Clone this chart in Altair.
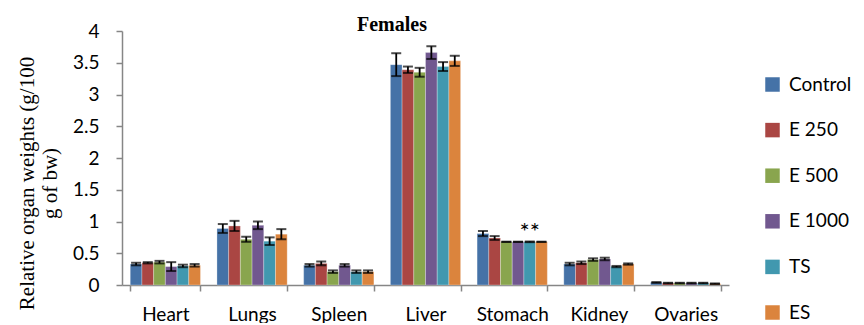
import altair as alt
import pandas as pd

organs = ["Heart", "Lungs", "Spleen", "Liver", "Stomach", "Kidney", "Ovaries"]
groups = ["Control", "E 250", "E 500", "E 1000", "TS", "ES"]
colors = ["#4572A7", "#AA4643", "#89A54E", "#71588F", "#4198AF", "#DB843D"]
y_ticks = [0, 0.5, 1, 1.5, 2, 2.5, 3, 3.5, 4]

control = [0.33, 0.89, 0.31, 3.47, 0.81, 0.33, 0.04]
e250 = [0.35, 0.93, 0.34, 3.39, 0.74, 0.35, 0.03]
e500 = [0.36, 0.72, 0.21, 3.35, 0.68, 0.40, 0.03]
e1000 = [0.29, 0.94, 0.31, 3.66, 0.68, 0.41, 0.03]
ts = [0.30, 0.69, 0.21, 3.44, 0.68, 0.29, 0.03]
es = [0.31, 0.80, 0.21, 3.53, 0.68, 0.33, 0.02]

err_control = [0.02, 0.07, 0.02, 0.18, 0.04, 0.02, 0.005]
err_e250 = [0.01, 0.08, 0.03, 0.05, 0.03, 0.02, 0.005]
err_e500 = [0.02, 0.04, 0.02, 0.07, 0.0, 0.02, 0.005]
err_e1000 = [0.07, 0.06, 0.02, 0.10, 0.0, 0.02, 0.005]
err_ts = [0.02, 0.06, 0.02, 0.07, 0.005, 0.01, 0.005]
err_es = [0.02, 0.08, 0.02, 0.08, 0.0, 0.01, 0.005]

sig_organ = ["Stomach"]
sig_group = ["TS"]
sig_text = ["**"]

y_title_lines = ["Relative  organ weights  (g/100", "g of bw)"]
chart_title = "Females"

series = [control, e250, e500, e1000, ts, es]
errors = [err_control, err_e250, err_e500, err_e1000, err_ts, err_es]

rows = []
for g, vals, errs in zip(groups, series, errors):
    for o, v, e in zip(organs, vals, errs):
        rows.append({"organ": o, "group": g, "value": v, "lo": v - e, "hi": v + e})
df = pd.DataFrame(rows)

sig_rows = []
for o, g, t in zip(sig_organ, sig_group, sig_text):
    r = df[(df.organ == o) & (df.group == g)].iloc[0]
    sig_rows.append({"organ": o, "group": g, "value": r["hi"], "label": t})
sig_df = pd.DataFrame(sig_rows)

LABEL_FONT = "Lato"
SERIF = "Liberation Serif"
GREY = "#868686"

x_axis = alt.Axis(
    title=None,
    labelAngle=0,
    labelFont=LABEL_FONT,
    labelFontSize=19,
    labelColor="#000000",
    labelPadding=14,
    domainColor=GREY,
    domainWidth=1.5,
    tickColor=GREY,
    tickWidth=1.5,
    tickSize=6,
    tickBand="extent",
)
y_axis = alt.Axis(
    title=y_title_lines,
    titleFont=SERIF,
    titleFontSize=21,
    titleFontWeight="normal",
    titleColor="#000000",
    titleAngle=270,
    titleX=-89,
    titleY=152,
    titleAlign="center",
    titleBaseline="alphabetic",
    titleLineHeight=23,
    values=y_ticks,
    format="~g",
    labelFont=LABEL_FONT,
    labelFontSize=19,
    labelColor="#000000",
    labelPadding=17,
    labelOverlap=False,
    grid=False,
    domainColor=GREY,
    domainWidth=1.5,
    tickColor=GREY,
    tickWidth=1.5,
    tickSize=6,
)

x_scale = alt.Scale(paddingInner=0.19, paddingOuter=0.095)
y_scale = alt.Scale(domain=[0, 4], nice=False)


def xe():
    return alt.X("organ:N", sort=organs, scale=x_scale, axis=x_axis)


def xoe():
    return alt.XOffset("group:N", sort=groups, scale=alt.Scale(paddingInner=0, paddingOuter=0))


def ye(field):
    return alt.Y(field, scale=y_scale, axis=y_axis)


bars = alt.Chart(df).mark_bar(stroke="white", strokeWidth=0.4, strokeOpacity=0.7).encode(
    x=xe(),
    xOffset=xoe(),
    y=ye("value:Q"),
    color=alt.Color(
        "group:N",
        sort=groups,
        scale=alt.Scale(domain=groups, range=colors),
        legend=alt.Legend(
            title=None,
            orient="none",
            legendX=641,
            legendY=44,
            symbolType="square",
            symbolSize=210,
            symbolStrokeWidth=0,
            symbolOpacity=1,
            labelFont=LABEL_FONT,
            labelFontSize=19,
            labelColor="#000000",
            labelOffset=7,
            rowPadding=25.6,
        ),
    ),
)

err_rule = alt.Chart(df).mark_rule(color="black", strokeWidth=1.8).encode(
    x=xe(),
    xOffset=xoe(),
    y=ye("lo:Q"),
    y2="hi:Q",
)
cap_lo = alt.Chart(df).mark_tick(color="black", thickness=2, size=10).encode(
    x=xe(),
    xOffset=xoe(),
    y=ye("lo:Q"),
)
cap_hi = alt.Chart(df).mark_tick(color="black", thickness=2, size=10).encode(
    x=xe(),
    xOffset=xoe(),
    y=ye("hi:Q"),
)

sig = alt.Chart(sig_df).mark_text(
    font=LABEL_FONT, fontSize=24, color="#000000", baseline="alphabetic", dy=-2
).encode(
    x=xe(),
    xOffset=xoe(),
    y=ye("value:Q"),
    text="label:N",
)

title_df = pd.DataFrame({"t": [chart_title]})
title_mark = alt.Chart(title_df).mark_text(
    font=SERIF, fontSize=20, fontWeight="bold", color="#000000", baseline="alphabetic"
).encode(x=alt.value(270), y=alt.value(0), text="t:N")

chart = alt.layer(bars, err_rule, cap_lo, cap_hi, sig, title_mark).properties(
    width=607,
    height=254,
    autosize="none",
    padding={"left": 114, "top": 23, "right": 127, "bottom": 38},
    background="white",
).configure_view(stroke=None)

chart.save("out.html", embed_options={"renderer": "svg", "actions": False})
